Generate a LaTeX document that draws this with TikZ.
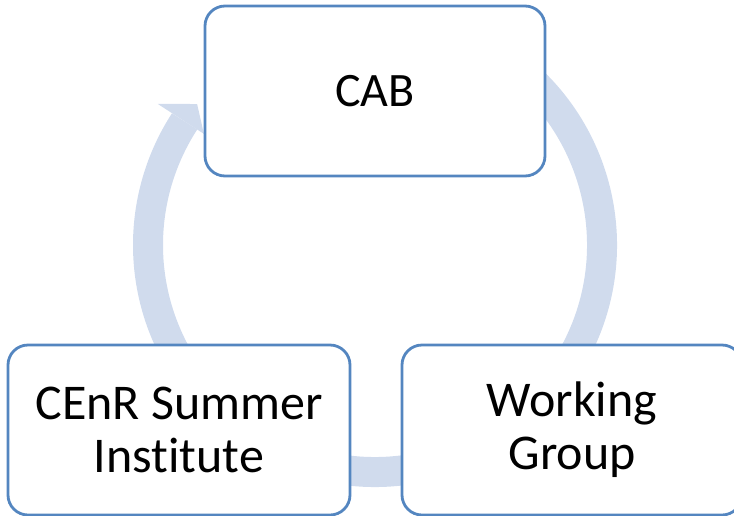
\documentclass[tikz,border=0pt]{standalone}
\usepackage{fontspec}
\setmainfont{Carlito}[Ligatures={NoCommon,NoRare,NoDiscretionary}]
\usetikzlibrary{calc}
\definecolor{bandblue}{RGB}{208,219,237}
\definecolor{boxblue}{RGB}{84,134,192}
\begin{document}
\begin{tikzpicture}[x=1pt,y=-1pt,
  stagebox/.style={draw=boxblue,line width=2.8pt,fill=white,rounded corners=20pt,
    minimum width=340pt,minimum height=170pt,align=center,inner sep=0pt,
    font=\fontsize{50}{53}\selectfont},
  band/.style={draw=bandblue,line width=30pt}]
\useasboundingbox (0,0) rectangle (734,515);
\coordinate (c) at (375,245);
% cycle band
\draw[band] ($(c)+(-60:227)$) arc[start angle=-60,end angle=213,radius=227];
\fill[bandblue] ($(c)+(213:259)$) -- ($(c)+(218.4:227)$) -- ($(c)+(213:204)$) -- cycle;
% boxes
\node[stagebox,font=\fontsize{48}{53}\selectfont] (cab) at (375,91) {CAB};
\node[stagebox,minimum width=342pt] (cenr) at (179,430) {CEnR Summer\\Institute};
\node[stagebox] (wg) at (572,430) {Working\\Group};
\end{tikzpicture}
\end{document}
